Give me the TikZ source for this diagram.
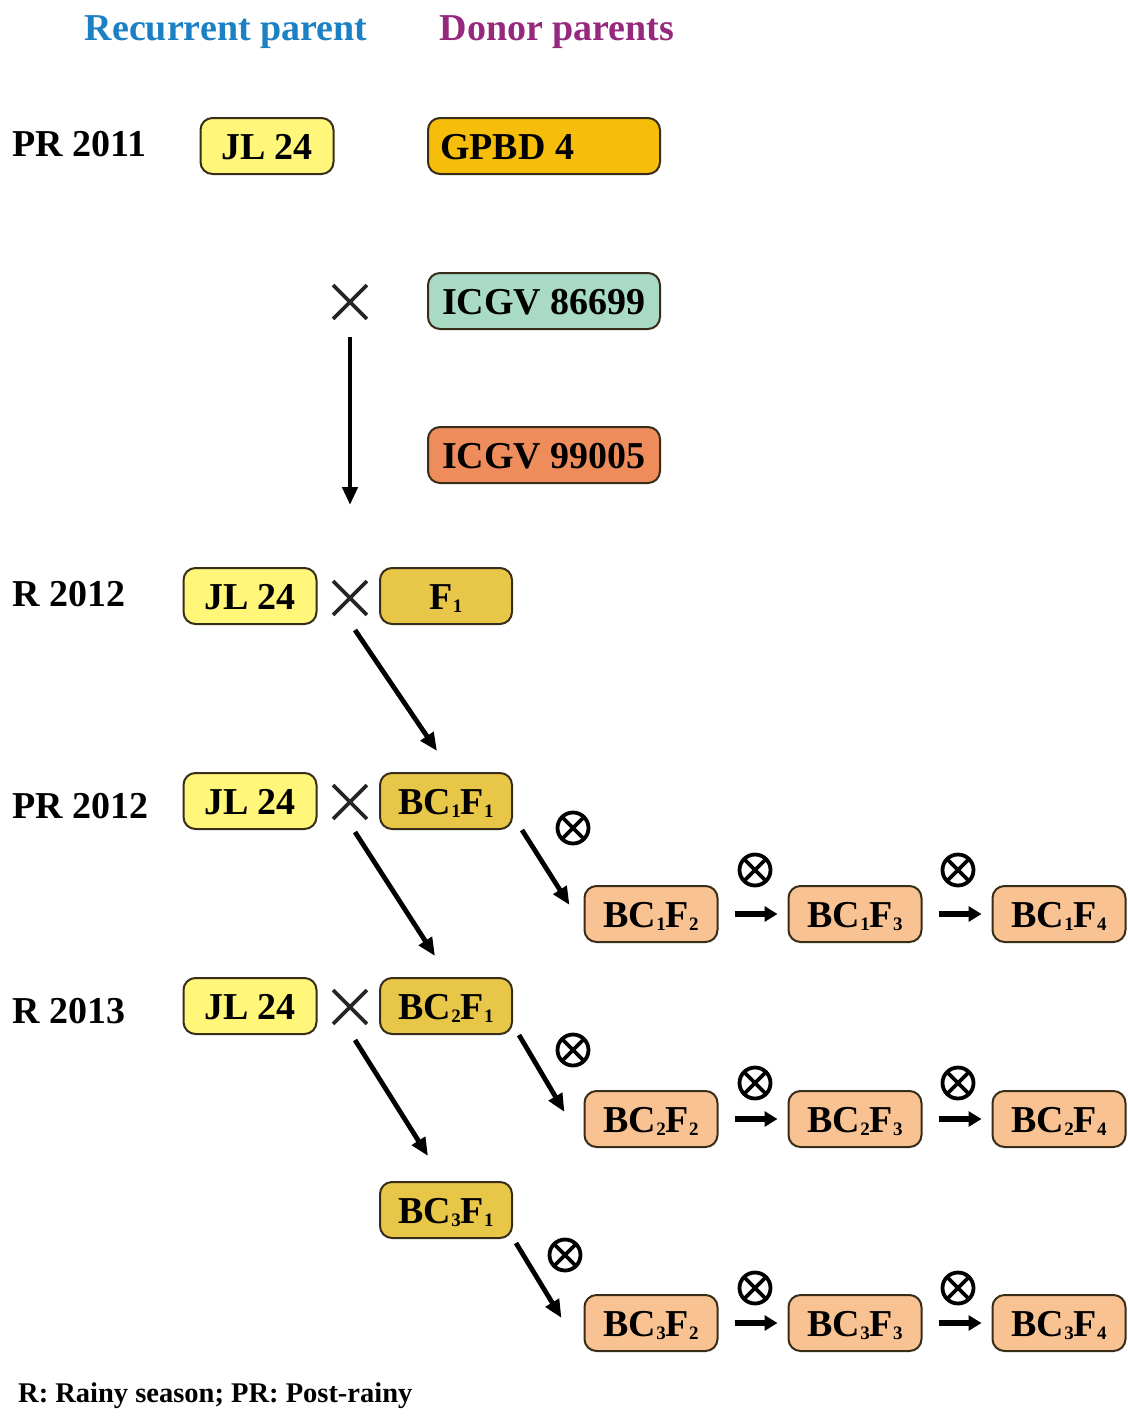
\documentclass[tikz,border=0pt]{standalone}
\usepackage{fontspec}
\setmainfont{Liberation Serif}
\usetikzlibrary{arrows.meta, shapes.misc, calc}

\definecolor{recblue}{RGB}{28,128,196}
\definecolor{donpurple}{RGB}{150,40,125}
\definecolor{jlyellow}{RGB}{255,246,122}
\definecolor{gpbdgold}{RGB}{246,190,10}
\definecolor{icgvmint}{RGB}{168,218,198}
\definecolor{icgvsalmon}{RGB}{238,140,92}
\definecolor{fgold}{RGB}{232,198,72}
\definecolor{bcpeach}{RGB}{249,194,146}
\definecolor{boxline}{RGB}{55,45,25}

\newcommand{\low}[1]{\raisebox{-3pt}{\fontsize{19}{20}\selectfont#1}}
\newcommand{\bcf}[2]{BC\low{#1}F\low{#2}}

\tikzset{
  txt/.style={font=\bfseries\fontsize{38}{44}\selectfont},
  gbox/.style={txt, draw=boxline, line width=2pt, rounded corners=12pt,
    minimum height=56pt, text height=26pt, text depth=0pt, inner sep=0pt},
  jl/.style={gbox, fill=jlyellow, minimum width=133pt},
  donor/.style={gbox, minimum width=232pt},
  fgen/.style={gbox, fill=fgold, minimum width=132pt},
  selfgen/.style={gbox, fill=bcpeach, minimum width=133pt},
  season/.style={txt, anchor=west, text height=26pt, text depth=0pt, inner sep=0pt},
  xmark/.style={cross out, draw=black!85, line width=3.8pt, minimum size=30pt, inner sep=0pt},
  selfmark/.style={circle, draw, line width=3.8pt, minimum size=31pt, inner sep=0pt,
    path picture={\draw[line width=3.8pt]
      (path picture bounding box.north west) -- (path picture bounding box.south east)
      (path picture bounding box.south west) -- (path picture bounding box.north east);}},
  arr/.style={line width=4.8pt, -{Triangle[length=18pt,width=15pt]}},
  harr/.style={line width=5.5pt, -{Triangle[length=13pt,width=15pt]},
    shorten <=16pt, shorten >=10pt}
}

\begin{document}
\begin{tikzpicture}[x=1pt,y=-1pt]
    \useasboundingbox (0,0) rectangle (1127,1416);

    % column headings
    \node[txt, text=recblue, anchor=base] (hdrrec) at (226,40) {Recurrent parent};
    \node[txt, text=donpurple, anchor=base] (hdrdon) at (557,40) {Donor parents};

    % seasons
    \node[season] (pr11) at (12,143) {PR 2011};
    \node[season] (r12) at (12,593) {R 2012};
    \node[season] (pr12) at (12,805) {PR 2012};
    \node[season] (r13) at (12,1010) {R 2013};

    % parents
    \node[jl] (jla) at (267,146) {JL 24};
    \node[donor, fill=gpbdgold] (gpbd) at (544,146) {\makebox[208pt][l]{GPBD 4}};
    \node[xmark] (xa) at (350,302) {};
    \node[donor, fill=icgvmint] (icgva) at (544,301) {ICGV 86699};
    \node[donor, fill=icgvsalmon] (icgvb) at (544,455) {ICGV 99005};
    \coordinate (vend) at (350,505);
    \draw[arr] ($(xa)+(0,35)$) -- (vend);

    % backcrosses
    \node[jl] (jlb) at (250,596) {JL 24};
    \node[xmark] (xb) at (350,598) {};
    \node[fgen] (f1) at (446,596) {F\low{1}};

    \node[jl] (jlc) at (250,801) {JL 24};
    \node[xmark] (xc) at (350,802) {};
    \node[fgen] (b11) at (446,801) {\bcf{1}{1}};

    \node[jl] (jld) at (250,1006) {JL 24};
    \node[xmark] (xd) at (350,1007) {};
    \node[fgen] (b21) at (446,1006) {\bcf{2}{1}};

    \node[fgen] (b31) at (446,1210) {\bcf{3}{1}};

    \draw[arr] ($(xb)+(5,32)$) -- ($(b11.north)+(-9,-21)$);
    \draw[arr] ($(xc)+(5,30)$) -- ($(b21.north)+(-11,-21)$);
    \draw[arr] ($(xd)+(5,33)$) -- ($(b31.north)+(-18,-25)$);

    % selfing generations
    \foreach \c/\y/\s in {1/914/870,2/1119/1083,3/1323/1288}{
        \node[selfgen] (b\c2) at (651,\y) {\bcf{\c}{2}};
        \node[selfgen] (b\c3) at (855,\y) {\bcf{\c}{3}};
        \node[selfgen] (b\c4) at (1059,\y) {\bcf{\c}{4}};
        \draw[harr] (b\c2.east) -- (b\c3.west);
        \draw[harr] (b\c3.east) -- (b\c4.west);
        \node[selfmark] (s\c a) at (755,\s) {};
        \node[selfmark] (s\c b) at (958,\s) {};
    }
    \node[selfmark] (s1) at (573,828) {};
    \node[selfmark] (s2) at (573,1050) {};
    \node[selfmark] (s3) at (565,1255) {};
    \draw[arr] ($(b11.south east)+(9,0)$) -- ($(b12.west)+(-14,-9)$);
    \draw[arr] ($(b21.south east)+(6,0)$) -- ($(b22.west)+(-19,-7)$);
    \draw[arr] ($(b31.south east)+(3,4)$) -- ($(b32.west)+(-22,-5)$);

    \node[txt, font=\bfseries\fontsize{28.5}{34}\selectfont, anchor=base west, inner sep=0pt]
        (note) at (18,1402) {R: Rainy season; PR: Post-rainy};
\end{tikzpicture}
\end{document}
